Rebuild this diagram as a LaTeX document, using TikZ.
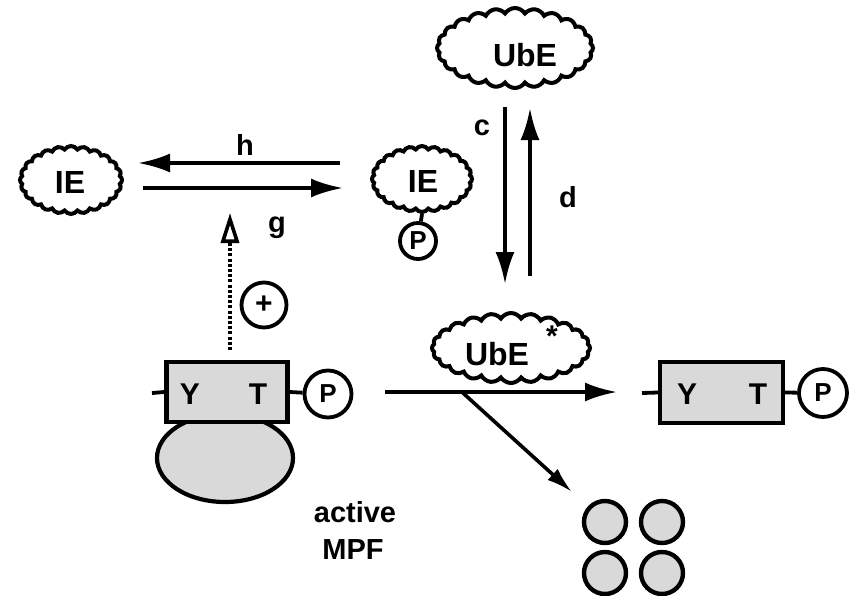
\documentclass[tikz,border=0pt]{standalone}
\usepackage{fontspec}
\setmainfont{Liberation Sans}
\usetikzlibrary{arrows.meta,shapes.symbols,shapes.geometric}
\begin{document}
\begin{tikzpicture}[x=1pt,y=-1pt,
  blob/.style={cloud, draw, line width=4pt, cloud puffs=24, cloud puff arc=115,
    cloud ignores aspect, inner sep=0pt, fill=white},
  lbl/.style={font=\fontsize{32}{36}\selectfont\bfseries, inner sep=0pt},
  small/.style={font=\fontsize{29}{33}\selectfont\bfseries, inner sep=0pt},
  phos/.style={circle, draw, line width=3.8pt, inner sep=0pt, fill=white,
    font=\fontsize{26}{30}\selectfont\bfseries},
  arr/.style={line width=3.8pt, -{Latex[length=32pt,width=19pt]}},
  thin arr/.style={line width=3.6pt, -{Latex[length=26pt,width=15pt]}},
  stipple/.style={fill=gray!30},
  link/.style={line width=3.8pt},
  ytbox/.style={draw, stipple, line width=4.2pt, minimum width=121pt, minimum height=60pt, inner sep=0pt},
  residue/.style={font=\fontsize{30}{34}\selectfont\bfseries, inner sep=0pt},
  bead/.style={circle, draw, stipple, line width=4.4pt, minimum size=42pt, inner sep=0pt}
]
\useasboundingbox (0,0) rectangle (849,595);

% enzyme clouds
\node[blob, minimum width=156pt, minimum height=80pt] (ube) at (515,48) {};
\node[lbl] (ubeT) at (525,55) {UbE};
\node[blob, minimum width=102pt, minimum height=68pt] (ie1) at (71,180) {};
\node[lbl] (ie1T) at (70,182) {IE};
\node[blob, minimum width=100pt, minimum height=66pt] (ie2) at (422,179) {};
\node[lbl] (ie2T) at (423,181) {IE};
\node[phos, minimum size=36pt] (p2) at (418,241) {P};
\draw[link] (ie2.south) -- (p2);
\node[blob, minimum width=158pt, minimum height=70pt] (ubes) at (511,348) {};
\node[lbl] (ubesT) at (497,354) {UbE};
\node[residue] (star) at (552,336) {*};

% h / g interconversion of IE
\coordinate (hs) at (340,163);
\coordinate (he) at (138,163);
\coordinate (gs) at (143,188);
\coordinate (ge) at (343,188);
\draw[arr] (hs) -- (he);
\draw[arr] (gs) -- (ge);
\node[small] (h) at (245,145) {h};
\node[small] (g) at (277,228) {g};

% c / d activation of UbE
\coordinate (cs) at (505,107);
\coordinate (ce) at (505,284);
\coordinate (ds) at (530,276);
\coordinate (de) at (530,108);
\draw[arr] (cs) -- (ce);
\draw[arr] (ds) -- (de);
\node[small] (c) at (482,128) {c};
\node[small] (d) at (568,197) {d};

% active MPF
\node[ellipse, draw, stipple, line width=4.2pt, minimum width=136pt, minimum height=88pt] (cyc) at (225,458) {};
\node[ytbox] (box1) at (227,392) {};
\node[residue] (y1) at (190,394) {Y};
\node[residue] (t1) at (258,394) {T};
\coordinate (s1) at (152,393);
\draw[link] (s1) -- (box1.west);
\node[phos, minimum size=47pt] (p1) at (328,394) {P};
\draw[link] (box1.east) -- (p1);
\node[small] (act) at (355,512) {active};
\node[small] (mpf) at (353,550) {MPF};

% stimulation of g by MPF
\coordinate (dotS) at (230,350);
\coordinate (dotE) at (230,213);
\draw[line width=4.2pt, dash pattern=on 3pt off 2.2pt,
  -{Triangle[open,length=30pt,width=18pt,line width=3.6pt]}] (dotS) -- (dotE);
\node[circle, draw, line width=3.8pt, minimum size=45pt, inner sep=0pt,
  font=\fontsize{30}{34}\selectfont\bfseries] (plus) at (264,305) {+};

% degradation
\coordinate (ha) at (385,392);
\coordinate (hb) at (617,392);
\draw[arr] (ha) -- (hb);
\coordinate (da) at (463,393);
\coordinate (db) at (572,492);
\draw[thin arr] (da) -- (db);

\node[ytbox, minimum width=123pt, minimum height=61pt] (box2) at (721.5,392.5) {};
\node[residue] (y2) at (687,394) {Y};
\node[residue] (t2) at (758,394) {T};
\coordinate (s2) at (642,393);
\draw[link] (s2) -- (box2.west);
\node[phos, minimum size=48pt] (p3) at (823,393) {P};
\draw[link] (box2.east) -- (p3);

\node[bead] (b1) at (605,522) {};
\node[bead] (b2) at (662,522) {};
\node[bead] (b3) at (605,573) {};
\node[bead] (b4) at (662,573) {};
\end{tikzpicture}
\end{document}
